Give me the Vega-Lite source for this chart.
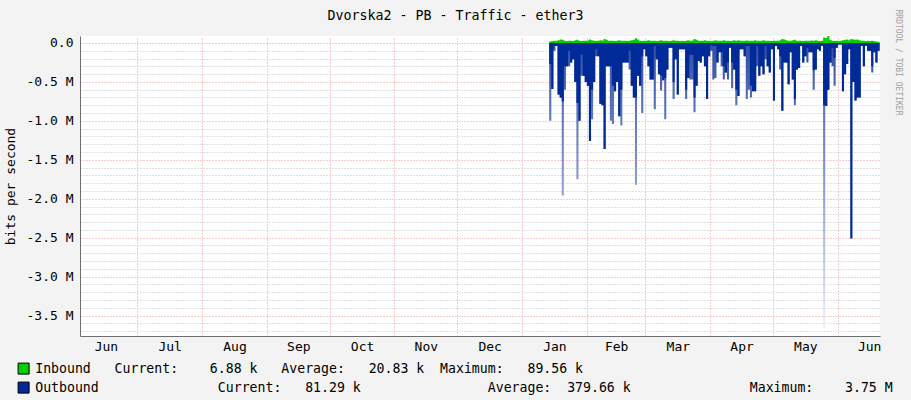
{
  "$schema": "https://vega.github.io/schema/vega-lite/v6.json",
  "width": 800,
  "height": 300,
  "autosize": {"type": "none"},
  "padding": {"left": 80, "top": 36, "right": 31, "bottom": 64},
  "background": "#F3F3F3",
  "config": {"view": {"fill": "white", "stroke": null}, "font": "DejaVu Sans Mono"},
  "title": {"text": "Dvorska2 - PB - Traffic - ether3", "font": "DejaVu Sans Mono", "fontSize": 13.3, "fontWeight": "normal", "color": "#000", "anchor": "middle", "frame": "group", "dx": -24.5, "dy": 14, "offset": -10, "baseline": "alphabetic"},
  "data": {"values": [
    {"date":"2019-01-14","Inbound":0.02,"Outbound":-0.27,"OutPeak":-1.0},
    {"date":"2019-01-15","Inbound":0.025,"Outbound":-0.59,"OutPeak":-0.59},
    {"date":"2019-01-16","Inbound":0.03,"Outbound":-0.04,"OutPeak":-0.1},
    {"date":"2019-01-17","Inbound":0.028,"Outbound":-0.04,"OutPeak":-0.04},
    {"date":"2019-01-18","Inbound":0.035,"Outbound":-0.66,"OutPeak":-0.66},
    {"date":"2019-01-19","Inbound":0.045,"Outbound":-0.7,"OutPeak":-0.7},
    {"date":"2019-01-20","Inbound":0.04,"Outbound":-0.75,"OutPeak":-1.96},
    {"date":"2019-01-21","Inbound":0.03,"Outbound":-0.3,"OutPeak":-0.6},
    {"date":"2019-01-22","Inbound":0.025,"Outbound":-0.3,"OutPeak":-0.3},
    {"date":"2019-01-23","Inbound":0.028,"Outbound":-0.1,"OutPeak":-0.3},
    {"date":"2019-01-24","Inbound":0.03,"Outbound":-0.25,"OutPeak":-0.25},
    {"date":"2019-01-25","Inbound":0.026,"Outbound":-0.21,"OutPeak":-0.21},
    {"date":"2019-01-26","Inbound":0.035,"Outbound":-0.5,"OutPeak":-0.5},
    {"date":"2019-01-27","Inbound":0.04,"Outbound":-0.77,"OutPeak":-1.75},
    {"date":"2019-01-28","Inbound":0.03,"Outbound":-1.0,"OutPeak":-1.0},
    {"date":"2019-01-29","Inbound":0.025,"Outbound":-0.15,"OutPeak":-0.42},
    {"date":"2019-01-30","Inbound":0.03,"Outbound":-0.42,"OutPeak":-0.42},
    {"date":"2019-01-31","Inbound":0.028,"Outbound":-0.5,"OutPeak":-0.5},
    {"date":"2019-02-01","Inbound":0.032,"Outbound":-0.55,"OutPeak":-0.55},
    {"date":"2019-02-02","Inbound":0.045,"Outbound":-1.26,"OutPeak":-1.26},
    {"date":"2019-02-03","Inbound":0.035,"Outbound":-0.6,"OutPeak":-0.98},
    {"date":"2019-02-04","Inbound":0.03,"Outbound":-0.5,"OutPeak":-0.5},
    {"date":"2019-02-05","Inbound":0.025,"Outbound":-0.08,"OutPeak":-0.17},
    {"date":"2019-02-06","Inbound":0.03,"Outbound":-0.17,"OutPeak":-0.17},
    {"date":"2019-02-07","Inbound":0.035,"Outbound":-0.78,"OutPeak":-0.78},
    {"date":"2019-02-08","Inbound":0.032,"Outbound":-0.8,"OutPeak":-0.8},
    {"date":"2019-02-09","Inbound":0.05,"Outbound":-1.36,"OutPeak":-1.36},
    {"date":"2019-02-10","Inbound":0.04,"Outbound":-0.3,"OutPeak":-0.3},
    {"date":"2019-02-11","Inbound":0.03,"Outbound":-0.3,"OutPeak":-0.3},
    {"date":"2019-02-12","Inbound":0.028,"Outbound":-0.3,"OutPeak":-1.0},
    {"date":"2019-02-13","Inbound":0.03,"Outbound":-0.55,"OutPeak":-1.04},
    {"date":"2019-02-14","Inbound":0.025,"Outbound":-0.62,"OutPeak":-0.62},
    {"date":"2019-02-15","Inbound":0.03,"Outbound":-0.5,"OutPeak":-0.5},
    {"date":"2019-02-16","Inbound":0.035,"Outbound":-0.94,"OutPeak":-0.94},
    {"date":"2019-02-17","Inbound":0.03,"Outbound":-0.6,"OutPeak":-1.06},
    {"date":"2019-02-18","Inbound":0.028,"Outbound":-0.25,"OutPeak":-0.25},
    {"date":"2019-02-19","Inbound":0.03,"Outbound":-0.25,"OutPeak":-0.25},
    {"date":"2019-02-20","Inbound":0.026,"Outbound":-0.25,"OutPeak":-0.25},
    {"date":"2019-02-21","Inbound":0.03,"Outbound":-0.1,"OutPeak":-0.34},
    {"date":"2019-02-22","Inbound":0.035,"Outbound":-0.55,"OutPeak":-0.55},
    {"date":"2019-02-23","Inbound":0.04,"Outbound":-0.7,"OutPeak":-0.7},
    {"date":"2019-02-24","Inbound":0.06,"Outbound":-0.7,"OutPeak":-1.82},
    {"date":"2019-02-25","Inbound":0.045,"Outbound":-0.42,"OutPeak":-0.42},
    {"date":"2019-02-26","Inbound":0.03,"Outbound":-0.55,"OutPeak":-0.55},
    {"date":"2019-02-27","Inbound":0.025,"Outbound":-0.17,"OutPeak":-0.9},
    {"date":"2019-02-28","Inbound":0.028,"Outbound":-0.08,"OutPeak":-0.08},
    {"date":"2019-03-01","Inbound":0.03,"Outbound":-0.17,"OutPeak":-0.17},
    {"date":"2019-03-02","Inbound":0.035,"Outbound":-0.3,"OutPeak":-0.3},
    {"date":"2019-03-03","Inbound":0.03,"Outbound":-0.47,"OutPeak":-0.47},
    {"date":"2019-03-04","Inbound":0.028,"Outbound":-0.47,"OutPeak":-0.47},
    {"date":"2019-03-05","Inbound":0.03,"Outbound":-0.04,"OutPeak":-0.85},
    {"date":"2019-03-06","Inbound":0.026,"Outbound":-0.21,"OutPeak":-0.21},
    {"date":"2019-03-07","Inbound":0.03,"Outbound":-0.4,"OutPeak":-0.4},
    {"date":"2019-03-08","Inbound":0.035,"Outbound":-0.42,"OutPeak":-0.61},
    {"date":"2019-03-09","Inbound":0.03,"Outbound":-0.48,"OutPeak":-0.48},
    {"date":"2019-03-10","Inbound":0.03,"Outbound":-0.45,"OutPeak":-0.98},
    {"date":"2019-03-11","Inbound":0.028,"Outbound":-0.34,"OutPeak":-0.34},
    {"date":"2019-03-12","Inbound":0.025,"Outbound":-0.06,"OutPeak":-0.06},
    {"date":"2019-03-13","Inbound":0.03,"Outbound":-0.06,"OutPeak":-0.06},
    {"date":"2019-03-14","Inbound":0.035,"Outbound":-0.5,"OutPeak":-0.72},
    {"date":"2019-03-15","Inbound":0.03,"Outbound":-0.21,"OutPeak":-0.21},
    {"date":"2019-03-16","Inbound":0.028,"Outbound":-0.66,"OutPeak":-0.66},
    {"date":"2019-03-17","Inbound":0.025,"Outbound":-0.08,"OutPeak":-0.08},
    {"date":"2019-03-18","Inbound":0.03,"Outbound":-0.08,"OutPeak":-0.08},
    {"date":"2019-03-19","Inbound":0.026,"Outbound":-0.08,"OutPeak":-0.08},
    {"date":"2019-03-20","Inbound":0.03,"Outbound":-0.6,"OutPeak":-0.72},
    {"date":"2019-03-21","Inbound":0.035,"Outbound":-0.45,"OutPeak":-0.45},
    {"date":"2019-03-22","Inbound":0.03,"Outbound":-0.15,"OutPeak":-0.47},
    {"date":"2019-03-23","Inbound":0.032,"Outbound":-0.15,"OutPeak":-0.47},
    {"date":"2019-03-24","Inbound":0.05,"Outbound":-0.7,"OutPeak":-0.89},
    {"date":"2019-03-25","Inbound":0.04,"Outbound":-0.55,"OutPeak":-0.55},
    {"date":"2019-03-26","Inbound":0.03,"Outbound":-0.23,"OutPeak":-0.23},
    {"date":"2019-03-27","Inbound":0.028,"Outbound":-0.25,"OutPeak":-0.25},
    {"date":"2019-03-28","Inbound":0.03,"Outbound":-0.17,"OutPeak":-0.17},
    {"date":"2019-03-29","Inbound":0.035,"Outbound":-0.3,"OutPeak":-0.3},
    {"date":"2019-03-30","Inbound":0.03,"Outbound":-0.72,"OutPeak":-0.72},
    {"date":"2019-03-31","Inbound":0.028,"Outbound":-0.17,"OutPeak":-0.17},
    {"date":"2019-04-01","Inbound":0.025,"Outbound":-0.03,"OutPeak":-0.1},
    {"date":"2019-04-02","Inbound":0.03,"Outbound":-0.04,"OutPeak":-0.47},
    {"date":"2019-04-03","Inbound":0.035,"Outbound":-0.04,"OutPeak":-0.45},
    {"date":"2019-04-04","Inbound":0.03,"Outbound":-0.25,"OutPeak":-0.25},
    {"date":"2019-04-05","Inbound":0.028,"Outbound":-0.12,"OutPeak":-0.12},
    {"date":"2019-04-06","Inbound":0.03,"Outbound":-0.12,"OutPeak":-0.3},
    {"date":"2019-04-07","Inbound":0.035,"Outbound":-0.3,"OutPeak":-0.47},
    {"date":"2019-04-08","Inbound":0.03,"Outbound":-0.38,"OutPeak":-0.38},
    {"date":"2019-04-09","Inbound":0.03,"Outbound":-0.25,"OutPeak":-0.47},
    {"date":"2019-04-10","Inbound":0.026,"Outbound":-0.06,"OutPeak":-0.06},
    {"date":"2019-04-11","Inbound":0.03,"Outbound":-0.25,"OutPeak":-0.58},
    {"date":"2019-04-12","Inbound":0.035,"Outbound":-0.34,"OutPeak":-0.34},
    {"date":"2019-04-13","Inbound":0.03,"Outbound":-0.6,"OutPeak":-0.8},
    {"date":"2019-04-14","Inbound":0.035,"Outbound":-0.68,"OutPeak":-0.68},
    {"date":"2019-04-15","Inbound":0.03,"Outbound":-0.08,"OutPeak":-0.08},
    {"date":"2019-04-16","Inbound":0.028,"Outbound":-0.08,"OutPeak":-0.08},
    {"date":"2019-04-17","Inbound":0.03,"Outbound":-0.17,"OutPeak":-0.17},
    {"date":"2019-04-18","Inbound":0.032,"Outbound":-0.04,"OutPeak":-0.72},
    {"date":"2019-04-19","Inbound":0.03,"Outbound":-0.04,"OutPeak":-0.6},
    {"date":"2019-04-20","Inbound":0.028,"Outbound":-0.55,"OutPeak":-0.7},
    {"date":"2019-04-21","Inbound":0.03,"Outbound":-0.62,"OutPeak":-0.62},
    {"date":"2019-04-22","Inbound":0.035,"Outbound":-0.62,"OutPeak":-0.62},
    {"date":"2019-04-23","Inbound":0.03,"Outbound":-0.04,"OutPeak":-0.3},
    {"date":"2019-04-24","Inbound":0.028,"Outbound":-0.42,"OutPeak":-0.42},
    {"date":"2019-04-25","Inbound":0.03,"Outbound":-0.3,"OutPeak":-0.3},
    {"date":"2019-04-26","Inbound":0.035,"Outbound":-0.4,"OutPeak":-0.4},
    {"date":"2019-04-27","Inbound":0.03,"Outbound":-0.04,"OutPeak":-0.21},
    {"date":"2019-04-28","Inbound":0.028,"Outbound":-0.3,"OutPeak":-0.3},
    {"date":"2019-04-29","Inbound":0.03,"Outbound":-0.38,"OutPeak":-0.38},
    {"date":"2019-04-30","Inbound":0.026,"Outbound":-0.08,"OutPeak":-0.08},
    {"date":"2019-05-01","Inbound":0.03,"Outbound":-0.74,"OutPeak":-0.74},
    {"date":"2019-05-02","Inbound":0.028,"Outbound":-0.04,"OutPeak":-0.04},
    {"date":"2019-05-03","Inbound":0.03,"Outbound":-0.08,"OutPeak":-0.08},
    {"date":"2019-05-04","Inbound":0.035,"Outbound":-0.17,"OutPeak":-0.34},
    {"date":"2019-05-05","Inbound":0.05,"Outbound":-0.87,"OutPeak":-0.87},
    {"date":"2019-05-06","Inbound":0.045,"Outbound":-0.25,"OutPeak":-0.25},
    {"date":"2019-05-07","Inbound":0.035,"Outbound":-0.25,"OutPeak":-0.25},
    {"date":"2019-05-08","Inbound":0.03,"Outbound":-0.53,"OutPeak":-0.53},
    {"date":"2019-05-09","Inbound":0.028,"Outbound":-0.12,"OutPeak":-0.12},
    {"date":"2019-05-10","Inbound":0.035,"Outbound":-0.47,"OutPeak":-0.47},
    {"date":"2019-05-11","Inbound":0.04,"Outbound":-0.72,"OutPeak":-0.8},
    {"date":"2019-05-12","Inbound":0.03,"Outbound":-0.34,"OutPeak":-0.34},
    {"date":"2019-05-13","Inbound":0.028,"Outbound":-0.32,"OutPeak":-0.32},
    {"date":"2019-05-14","Inbound":0.03,"Outbound":-0.04,"OutPeak":-0.04},
    {"date":"2019-05-15","Inbound":0.026,"Outbound":-0.25,"OutPeak":-0.25},
    {"date":"2019-05-16","Inbound":0.03,"Outbound":-0.17,"OutPeak":-0.17},
    {"date":"2019-05-17","Inbound":0.028,"Outbound":-0.06,"OutPeak":-0.25},
    {"date":"2019-05-18","Inbound":0.03,"Outbound":-0.12,"OutPeak":-0.12},
    {"date":"2019-05-19","Inbound":0.032,"Outbound":-0.12,"OutPeak":-0.12},
    {"date":"2019-05-20","Inbound":0.03,"Outbound":-0.35,"OutPeak":-0.6},
    {"date":"2019-05-21","Inbound":0.035,"Outbound":-0.34,"OutPeak":-0.34},
    {"date":"2019-05-22","Inbound":0.03,"Outbound":-0.08,"OutPeak":-0.08},
    {"date":"2019-05-23","Inbound":0.025,"Outbound":-0.1,"OutPeak":-0.1},
    {"date":"2019-05-24","Inbound":0.03,"Outbound":-0.04,"OutPeak":-0.04},
    {"date":"2019-05-25","Inbound":0.07,"Outbound":-0.8,"OutPeak":-3.67},
    {"date":"2019-05-26","Inbound":0.065,"Outbound":-0.81,"OutPeak":-0.81},
    {"date":"2019-05-27","Inbound":0.0896,"Outbound":-0.6,"OutPeak":-0.6},
    {"date":"2019-05-28","Inbound":0.04,"Outbound":-0.25,"OutPeak":-0.25},
    {"date":"2019-05-29","Inbound":0.03,"Outbound":-0.06,"OutPeak":-0.3},
    {"date":"2019-05-30","Inbound":0.025,"Outbound":-0.19,"OutPeak":-0.55},
    {"date":"2019-05-31","Inbound":0.028,"Outbound":-0.06,"OutPeak":-0.06},
    {"date":"2019-06-01","Inbound":0.025,"Outbound":-0.02,"OutPeak":-0.02},
    {"date":"2019-06-02","Inbound":0.03,"Outbound":-0.02,"OutPeak":-0.02},
    {"date":"2019-06-03","Inbound":0.035,"Outbound":-0.62,"OutPeak":-0.62},
    {"date":"2019-06-04","Inbound":0.04,"Outbound":-0.4,"OutPeak":-0.4},
    {"date":"2019-06-05","Inbound":0.045,"Outbound":-0.27,"OutPeak":-0.27},
    {"date":"2019-06-06","Inbound":0.035,"Outbound":-0.08,"OutPeak":-0.08},
    {"date":"2019-06-07","Inbound":0.05,"Outbound":-2.51,"OutPeak":-2.51},
    {"date":"2019-06-08","Inbound":0.045,"Outbound":-0.5,"OutPeak":-0.5},
    {"date":"2019-06-09","Inbound":0.04,"Outbound":-0.74,"OutPeak":-0.74},
    {"date":"2019-06-10","Inbound":0.045,"Outbound":-0.7,"OutPeak":-0.7},
    {"date":"2019-06-11","Inbound":0.035,"Outbound":-0.7,"OutPeak":-0.7},
    {"date":"2019-06-12","Inbound":0.03,"Outbound":-0.04,"OutPeak":-0.04},
    {"date":"2019-06-13","Inbound":0.03,"Outbound":-0.3,"OutPeak":-0.3},
    {"date":"2019-06-14","Inbound":0.025,"Outbound":-0.04,"OutPeak":-0.04},
    {"date":"2019-06-15","Inbound":0.028,"Outbound":-0.1,"OutPeak":-0.1},
    {"date":"2019-06-16","Inbound":0.025,"Outbound":-0.1,"OutPeak":-0.1},
    {"date":"2019-06-17","Inbound":0.03,"Outbound":-0.3,"OutPeak":-0.38},
    {"date":"2019-06-18","Inbound":0.025,"Outbound":-0.12,"OutPeak":-0.12},
    {"date":"2019-06-19","Inbound":0.02,"Outbound":-0.25,"OutPeak":-0.25},
    {"date":"2019-06-20","Inbound":0.015,"Outbound":-0.1,"OutPeak":-0.1},
    {"date":"2019-06-21","Inbound":0.0069,"Outbound":-0.08,"OutPeak":-0.08}
  ]},
  "layer": [
    {
      "mark": {"type": "area", "interpolate": "step-after", "color": {"gradient": "linear", "x1": 0, "y1": 0, "x2": 0, "y2": 1, "stops": [{"offset": 0, "color": "#2E4EA6"}, {"offset": 1, "color": "#EEF1F9"}]}},
      "encoding": {
        "x": {"field": "date", "type": "temporal",
          "scale": {"type": "utc", "domain": [{"year": 2018, "month": 6, "date": 3, "hours": 14, "minutes": 24, "utc": true}, {"year": 2019, "month": 6, "date": 21, "hours": 5, "utc": true}]},
          "axis": {"orient": "bottom", "title": null, "grid": false, "ticks": false, "domainColor": "#6E6E6E", "domainWidth": 1,
            "values": [
              {"year": 2018, "month": 6, "date": 16, "utc": true},
              {"year": 2018, "month": 7, "date": 16, "hours": 12, "utc": true},
              {"year": 2018, "month": 8, "date": 16, "hours": 12, "utc": true},
              {"year": 2018, "month": 9, "date": 16, "utc": true},
              {"year": 2018, "month": 10, "date": 16, "hours": 12, "utc": true},
              {"year": 2018, "month": 11, "date": 16, "utc": true},
              {"year": 2018, "month": 12, "date": 16, "hours": 12, "utc": true},
              {"year": 2019, "month": 1, "date": 16, "hours": 12, "utc": true},
              {"year": 2019, "month": 2, "date": 15, "utc": true},
              {"year": 2019, "month": 3, "date": 16, "hours": 12, "utc": true},
              {"year": 2019, "month": 4, "date": 16, "utc": true},
              {"year": 2019, "month": 5, "date": 16, "hours": 12, "utc": true},
              {"year": 2019, "month": 6, "date": 16, "utc": true}
            ],
            "labelExpr": "utcFormat(datum.value, '%b')", "labelFont": "DejaVu Sans Mono", "labelFontSize": 13, "labelColor": "#000", "labelPadding": 4, "labelFlush": false, "labelOverlap": false, "labelBound": false, "zindex": 1}
        },
        "y": {"field": "OutPeak", "type": "quantitative",
          "scale": {"domain": [-3.763, 0.0897], "nice": false, "zero": false},
          "axis": {"orient": "left", "title": "bits per second", "titleFont": "DejaVu Sans Mono", "titleFontSize": 13, "titleFontWeight": "normal", "titleColor": "#000", "titleAngle": -90, "titleX": -70, "titleY": 150, "titleAlign": "center", "titleBaseline": "middle",
            "values": [0, -0.1, -0.2, -0.3, -0.4, -0.5, -0.6, -0.7, -0.8, -0.9, -1.0, -1.1, -1.2, -1.3, -1.4, -1.5, -1.6, -1.7, -1.8, -1.9, -2.0, -2.1, -2.2, -2.3, -2.4, -2.5, -2.6, -2.7, -2.8, -2.9, -3.0, -3.1, -3.2, -3.3, -3.4, -3.5, -3.6, -3.7],
            "grid": true, "gridDash": [1, 2], "gridWidth": 1,
            "gridColor": {"condition": {"test": "abs(datum.value*2 - round(datum.value*2)) < 0.001", "value": "#EE9A9A"}, "value": "#C4C4C4"},
            "ticks": false, "domainColor": "#6E6E6E", "domainWidth": 1,
            "labelExpr": "abs(datum.value*2 - round(datum.value*2)) < 0.001 ? (datum.value == 0 ? '0.0\u00a0\u00a0' : '-' + format(abs(datum.value), '.1f') + '\u00a0M') : ''",
            "labelFont": "DejaVu Sans Mono", "labelFontSize": 13, "labelColor": "#000", "labelPadding": 7, "labelBaseline": "middle", "labelFlush": false, "labelOverlap": false, "labelBound": false, "zindex": 0}
        }
      }
    },
    {
      "transform": [{"fold": ["Inbound", "Outbound"], "as": ["series", "bps"]}],
      "mark": {"type": "area", "interpolate": "step-after"},
      "encoding": {
        "x": {"field": "date", "type": "temporal",
          "axis": {"orient": "top", "title": null, "labels": false, "ticks": false, "domain": false, "grid": true, "gridColor": "#EE9A9A", "gridDash": [1, 2], "gridWidth": 1, "zindex": 0,
            "values": [
              {"year": 2018, "month": 7, "date": 1, "utc": true},
              {"year": 2018, "month": 8, "date": 1, "utc": true},
              {"year": 2018, "month": 9, "date": 1, "utc": true},
              {"year": 2018, "month": 10, "date": 1, "utc": true},
              {"year": 2018, "month": 11, "date": 1, "utc": true},
              {"year": 2018, "month": 12, "date": 1, "utc": true},
              {"year": 2019, "month": 1, "date": 1, "utc": true},
              {"year": 2019, "month": 2, "date": 1, "utc": true},
              {"year": 2019, "month": 3, "date": 1, "utc": true},
              {"year": 2019, "month": 4, "date": 1, "utc": true},
              {"year": 2019, "month": 5, "date": 1, "utc": true},
              {"year": 2019, "month": 6, "date": 1, "utc": true}
            ]}
        },
        "y": {"field": "bps", "type": "quantitative", "stack": null,
          "axis": {"orient": "right", "labels": false, "ticks": false, "domain": false, "grid": false,
            "title": "RRDTOOL / TOBI OETIKER", "titleFont": "DejaVu Sans Mono", "titleFontSize": 8, "titleFontWeight": "normal", "titleColor": "#A0A0A0", "titleAngle": 90, "titleX": 17, "titleY": -27, "titleAlign": "left", "titleBaseline": "middle"}
        },
        "color": {"field": "series", "type": "nominal",
          "scale": {"domain": ["Inbound", "Outbound"], "range": ["#00CF00", "#002A97"]},
          "legend": {"orient": "none", "legendX": -63, "legendY": 326, "direction": "vertical", "title": null, "padding": 0,
            "symbolType": "square", "symbolSize": 121, "symbolStrokeColor": "#000", "symbolStrokeWidth": 1, "symbolOpacity": 1,
            "labelFont": "DejaVu Sans Mono", "labelFontSize": 13.2, "labelColor": "#000", "labelOffset": 5, "rowPadding": 3, "labelLimit": 1200,
            "labelExpr": "datum.label == 'Inbound' ? 'Inbound\u00a0\u00a0\u00a0Current:\u00a0\u00a0\u00a0\u00a06.88\u00a0k\u00a0\u00a0\u00a0Average:\u00a0\u00a0\u00a020.83\u00a0k\u00a0\u00a0Maximum:\u00a0\u00a0\u00a089.56\u00a0k' : 'Outbound\u00a0\u00a0\u00a0\u00a0\u00a0\u00a0\u00a0\u00a0\u00a0\u00a0\u00a0\u00a0\u00a0\u00a0\u00a0Current:\u00a0\u00a0\u00a081.29\u00a0k\u00a0\u00a0\u00a0\u00a0\u00a0\u00a0\u00a0\u00a0\u00a0\u00a0\u00a0\u00a0\u00a0\u00a0\u00a0\u00a0Average:\u00a0\u00a0379.66\u00a0k\u00a0\u00a0\u00a0\u00a0\u00a0\u00a0\u00a0\u00a0\u00a0\u00a0\u00a0\u00a0\u00a0\u00a0\u00a0Maximum:\u00a0\u00a0\u00a0\u00a03.75\u00a0M'"}
        }
      }
    }
  ],
  "resolve": {"axis": {"x": "independent", "y": "independent"}}
}
